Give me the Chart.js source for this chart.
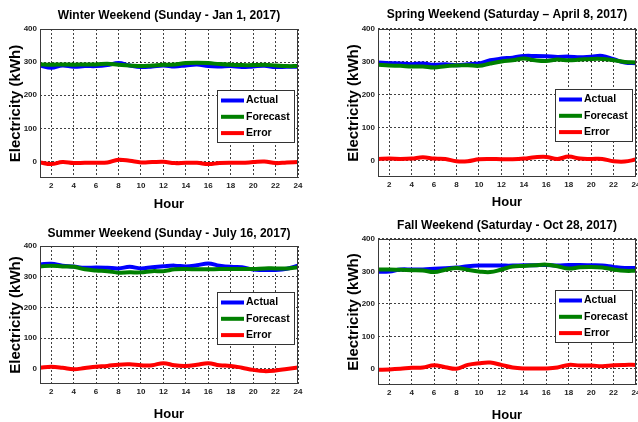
<!DOCTYPE html>
<html>
<head>
<meta charset="utf-8">
<script src="https://cdn.jsdelivr.net/npm/chart.js@4.4.1/dist/chart.umd.min.js"></script>
<style>
  html, body { margin: 0; padding: 0; background: #fff; overflow: hidden; }
  body { position: relative; width: 638px; height: 422px; }
  .panel { position: absolute; }
</style>
</head>
<body>
<canvas id="winter" class="panel" width="319" height="211" style="left:0;top:0"></canvas>
<canvas id="spring" class="panel" width="330" height="211" style="left:319px;top:0"></canvas>
<canvas id="summer" class="panel" width="319" height="211" style="left:0;top:211px"></canvas>
<canvas id="fall" class="panel" width="330" height="211" style="left:319px;top:211px"></canvas>
<script>
// Hourly data
const hours = [1, 2, 3, 4, 5, 6, 7, 8, 9, 10, 11, 12, 13, 14, 15, 16, 17, 18, 19, 20, 21, 22, 23, 24];
const xTicks = [2, 4, 6, 8, 10, 12, 14, 16, 18, 20, 22, 24];
const yTicks = [0, 100, 200, 300, 400];

const winterActual   = [290, 283, 290, 286, 288, 288, 291, 297, 290, 285, 287, 290, 287, 290, 293, 288, 287, 288, 285, 287, 289, 285, 286, 286];
const winterForecast = [293, 292, 293, 292, 293, 293, 295, 292, 290, 288, 290, 292, 293, 297, 298, 297, 294, 292, 291, 291, 292, 290, 288, 288];
const winterError    = [-3, -8, -2, -5, -4, -4, -3, 5, 2, -3, -2, -1, -5, -4, -4, -8, -5, -4, -4, -2, 0, -5, -3, -2];

const springActual   = [298, 296, 295, 293, 295, 291, 293, 290, 293, 295, 305, 310, 313, 318, 318, 317, 315, 316, 314, 316, 318, 308, 298, 296];
const springForecast = [291, 289, 288, 286, 286, 283, 287, 289, 290, 288, 295, 301, 305, 310, 305, 303, 307, 305, 307, 309, 309, 305, 300, 298];
const springError    = [5, 6, 5, 6, 10, 6, 5, -2, -2, 4, 5, 4, 4, 6, 10, 11, 5, 12, 6, 5, 5, -2, -3, 3];

const summerActual   = [340, 342, 336, 333, 329, 330, 329, 327, 332, 327, 331, 334, 336, 333, 337, 343, 336, 332, 331, 323, 322, 322, 326, 336];
const summerForecast = [333, 336, 333, 332, 324, 320, 318, 313, 314, 314, 318, 318, 324, 325, 324, 324, 325, 325, 325, 325, 327, 327, 327, 331];
const summerError    = [3, 6, 3, -2, 2, 6, 9, 13, 14, 11, 11, 18, 11, 9, 13, 18, 11, 9, 3, -4, -8, -6, -1, 4];

const fallActual     = [299, 300, 306, 306, 306, 308, 310, 312, 316, 318, 318, 318, 318, 319, 319, 320, 318, 320, 320, 319, 318, 314, 311, 311];
const fallForecast   = [306, 306, 305, 304, 303, 298, 305, 311, 305, 300, 298, 306, 315, 317, 319, 321, 316, 309, 313, 314, 312, 306, 302, 302];
const fallError      = [-3, -2, 0, 3, 4, 11, 5, 0, 12, 17, 19, 12, 4, 1, 1, 1, 4, 12, 10, 10, 8, 11, 12, 12];

const FONT = '"Liberation Sans", Arial, sans-serif';
const TICK_FONT = '"Liberation Sans Narrow", "Arial Narrow", "Liberation Sans", Arial, sans-serif';

// plot frame on all four sides
const plotFrame = {
  id: 'plotFrame',
  afterDatasetsDraw(chart) {
    const { ctx, chartArea: a } = chart;
    ctx.save();
    ctx.strokeStyle = '#3a3a3a';
    ctx.lineWidth = 1;
    ctx.strokeRect(Math.round(a.left) + 0.5, Math.round(a.top) + 0.5, Math.round(a.width) - 1, Math.round(a.height) - 1);
    ctx.restore();
  }
};

// MATLAB-style boxed legend inside the plot area
const legendBox = {
  id: 'legendBox',
  afterDraw(chart, args, opts) {
    const { ctx, chartArea } = chart;
    const w = 77, h = 52;
    const x = Math.round(chartArea.right - opts.right - w);
    const y = Math.round(chartArea.top + opts.top);
    ctx.save();
    ctx.fillStyle = '#fff';
    ctx.fillRect(x, y, w, h);
    ctx.strokeStyle = '#333';
    ctx.lineWidth = 1;
    ctx.strokeRect(x + 0.5, y + 0.5, w, h);
    ctx.font = 'bold 10.5px ' + FONT;
    ctx.textBaseline = 'middle';
    chart.data.datasets.forEach((ds, i) => {
      const ly = y + 10.5 + i * 16.3;
      ctx.strokeStyle = ds.borderColor;
      ctx.lineWidth = 4;
      ctx.beginPath();
      ctx.moveTo(x + 4, ly);
      ctx.lineTo(x + 27, ly);
      ctx.stroke();
      ctx.fillStyle = '#000';
      ctx.fillText(ds.label, x + 29, ly);
    });
    ctx.restore();
  }
};

function series(label, values, color, order) {
  return {
    label,
    data: hours.map((h, i) => ({ x: h, y: values[i] })),
    borderColor: color,
    backgroundColor: color,
    borderWidth: 4,
    pointRadius: 0,
    tension: 0.4,
    fill: false,
    order
  };
}

function makePanel(id, title, actual, forecast, error, box) {
  const canvas = document.getElementById(id);
  const W = canvas.width, H = canvas.height;
  const tickFont = { family: TICK_FONT, size: 8, weight: 'bold' };

  return new Chart(canvas, {
    type: 'line',
    data: {
      datasets: [
        series('Actual', actual, '#0000ff', 3),
        series('Forecast', forecast, '#008000', 2),
        series('Error', error, '#ff0000', 1)
      ]
    },
    options: {
      responsive: false,
      animation: false,
      devicePixelRatio: 1,
      layout: { padding: { left: 0, top: 0, bottom: 0, right: W - box.R } },
      plugins: {
        legend: { display: false },
        tooltip: { enabled: false },
        title: {
          display: true,
          text: title,
          color: '#000',
          fullSize: false,
          font: { family: FONT, size: 12, weight: 'bold', lineHeight: 1.2 },
          padding: { top: box.titleTop, bottom: box.T - box.titleTop - 14.4 }
        },
        legendBox: { right: 4, top: box.legendTop }
      },
      scales: {
        x: {
          type: 'linear',
          min: 1,
          max: 24,
          afterBuildTicks: s => { s.ticks = xTicks.map(v => ({ value: v })); },
          afterFit: s => { s.height = H - box.B; },
          grid: { color: '#111', lineWidth: 0.8, drawTicks: false },
          border: { display: false, dash: [2, 2] },
          ticks: { font: tickFont, color: '#222', padding: 3, autoSkip: false, maxRotation: 0 },
          title: {
            display: true,
            text: 'Hour',
            color: '#000',
            font: { family: FONT, size: 13, weight: 'bold', lineHeight: 1 },
            padding: { top: 0, bottom: box.hourPad }
          }
        },
        y: {
          min: -50,
          max: 400,
          afterBuildTicks: s => { s.ticks = yTicks.map(v => ({ value: v })); },
          afterFit: s => { s.width = box.L; },
          grid: { color: '#111', lineWidth: 0.8, drawTicks: false },
          border: { display: false, dash: [2, 2] },
          ticks: { font: tickFont, color: '#222', padding: 3 },
          title: {
            display: true,
            text: 'Electricity (kWh)',
            color: '#000',
            font: { family: FONT, size: 15, weight: 'bold', lineHeight: 1 },
            padding: { top: box.yTitlePad, bottom: 0 }
          }
        }
      }
    },
    plugins: [plotFrame, legendBox]
  });
}

makePanel('winter', 'Winter Weekend (Sunday - Jan 1, 2017)', winterActual, winterForecast, winterError,
  { L: 40, T: 29, R: 298, B: 178, titleTop: 8, legendTop: 61, yTitlePad: 8.3, hourPad: 0.3 });
makePanel('spring', 'Spring Weekend (Saturday \u2013 April 8, 2017)', springActual, springForecast, springError,
  { L: 59, T: 29, R: 317, B: 177, titleTop: 7.8, legendTop: 60, yTitlePad: 27.5, hourPad: 2 });
makePanel('summer', 'Summer Weekend (Sunday - July 16, 2017)', summerActual, summerForecast, summerError,
  { L: 40, T: 35, R: 298, B: 173, titleTop: 15.3, legendTop: 46, yTitlePad: 8.8, hourPad: 1.3 });
makePanel('fall', 'Fall Weekend (Saturday - Oct 28, 2017)', fallActual, fallForecast, fallError,
  { L: 59, T: 28, R: 317, B: 174, titleTop: 7.8, legendTop: 51, yTitlePad: 27.5, hourPad: 0.3 });
</script>
</body>
</html>
